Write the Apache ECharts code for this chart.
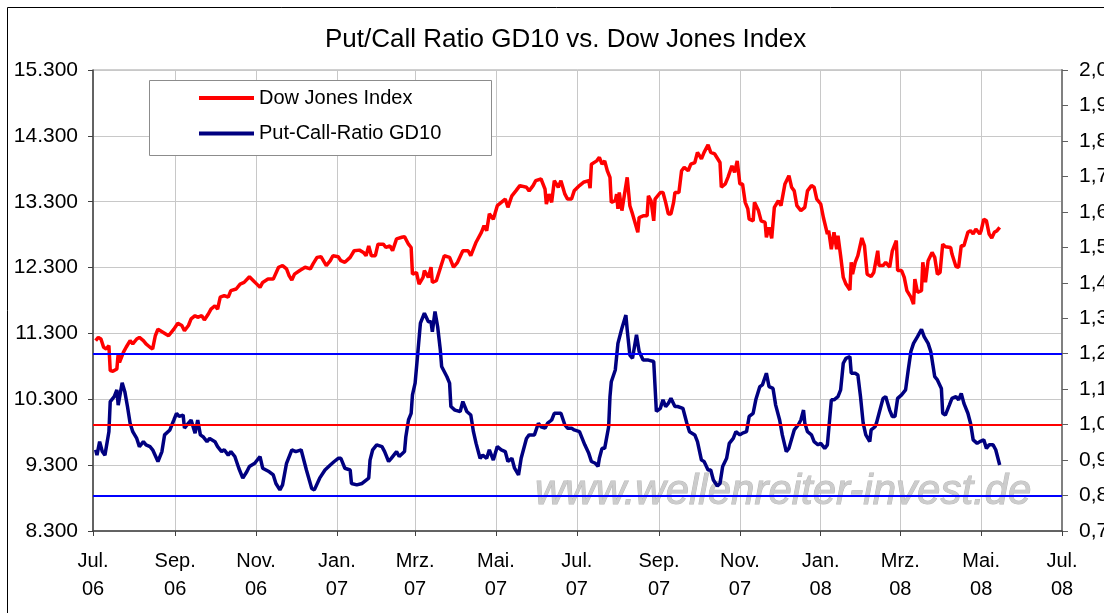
<!DOCTYPE html>
<html>
<head>
<meta charset="utf-8">
<title>Put/Call Ratio GD10 vs. Dow Jones Index</title>
<script src="https://cdn.jsdelivr.net/npm/echarts@6/dist/echarts.min.js"></script>
<style>
  html, body { margin: 0; padding: 0; background: #fff; }
  #chart { width: 1104px; height: 613px; }
</style>
</head>
<body>
<div id="chart"></div>
<script>
// tick labels: every second month, first of the month
const tickMonths = ['07', '09', '11', '01', '03', '05'];
const monthNames = { '01': 'Jan.', '03': 'Mrz.', '05': 'Mai.', '07': 'Jul.', '09': 'Sep.', '11': 'Nov.' };

// reference levels of the put/call ratio
const pcrUpper = [1.2, 0.8];
const pcrMiddle = [1.0];

const dowDates = [
  '2006-07-03','2006-07-05','2006-07-07','2006-07-09','2006-07-11','2006-07-13','2006-07-14','2006-07-16',
  '2006-07-19','2006-07-20','2006-07-21','2006-07-24','2006-07-26','2006-07-29','2006-07-31','2006-08-03',
  '2006-08-05','2006-08-08','2006-08-10','2006-08-13','2006-08-15','2006-08-17','2006-08-19','2006-08-23',
  '2006-08-27','2006-08-31','2006-09-03','2006-09-06','2006-09-08','2006-09-11','2006-09-13','2006-09-16',
  '2006-09-18','2006-09-21','2006-09-23','2006-09-26','2006-09-28','2006-10-01','2006-10-03','2006-10-05',
  '2006-10-08','2006-10-11','2006-10-13','2006-10-17','2006-10-20','2006-10-23','2006-10-27','2006-10-30',
  '2006-11-01','2006-11-04','2006-11-06','2006-11-10','2006-11-14','2006-11-18','2006-11-21','2006-11-24',
  '2006-11-26','2006-11-28','2006-11-30','2006-12-04','2006-12-08','2006-12-12','2006-12-14','2006-12-17',
  '2006-12-20','2006-12-24','2006-12-27','2006-12-29','2007-01-02','2007-01-04','2007-01-07','2007-01-11',
  '2007-01-14','2007-01-18','2007-01-21','2007-01-23','2007-01-25','2007-01-27','2007-01-30','2007-02-01',
  '2007-02-05','2007-02-07','2007-02-10','2007-02-12','2007-02-15','2007-02-19','2007-02-21','2007-02-24',
  '2007-02-26','2007-02-27','2007-03-02','2007-03-04','2007-03-07','2007-03-08','2007-03-11','2007-03-13',
  '2007-03-14','2007-03-17','2007-03-21','2007-03-23','2007-03-27','2007-03-30','2007-04-02','2007-04-06',
  '2007-04-10','2007-04-12','2007-04-16','2007-04-20','2007-04-22','2007-04-24','2007-04-26','2007-04-29',
  '2007-05-02','2007-05-05','2007-05-08','2007-05-10','2007-05-13','2007-05-16','2007-05-19','2007-05-24',
  '2007-05-26','2007-05-29','2007-05-31','2007-06-04','2007-06-07','2007-06-08','2007-06-10','2007-06-12',
  '2007-06-14','2007-06-17','2007-06-19','2007-06-22','2007-06-24','2007-06-27','2007-06-29','2007-07-03',
  '2007-07-06','2007-07-10','2007-07-11','2007-07-12','2007-07-16','2007-07-18','2007-07-20','2007-07-22',
  '2007-07-24','2007-07-26','2007-07-27','2007-07-30','2007-07-31','2007-08-01','2007-08-02','2007-08-04',
  '2007-08-08','2007-08-10','2007-08-12','2007-08-16','2007-08-17','2007-08-20','2007-08-23','2007-08-24',
  '2007-08-26','2007-08-28','2007-08-29','2007-09-02','2007-09-04','2007-09-06','2007-09-08','2007-09-10',
  '2007-09-12','2007-09-13','2007-09-16','2007-09-18','2007-09-20','2007-09-23','2007-09-25','2007-09-28',
  '2007-09-30','2007-10-03','2007-10-05','2007-10-08','2007-10-10','2007-10-13','2007-10-17','2007-10-18',
  '2007-10-21','2007-10-23','2007-10-26','2007-10-28','2007-10-30','2007-11-01','2007-11-03','2007-11-05',
  '2007-11-07','2007-11-08','2007-11-11','2007-11-12','2007-11-15','2007-11-17','2007-11-20','2007-11-21',
  '2007-11-23','2007-11-25','2007-11-27','2007-11-30','2007-12-02','2007-12-05','2007-12-08','2007-12-10',
  '2007-12-12','2007-12-14','2007-12-17','2007-12-20','2007-12-22','2007-12-25','2007-12-27','2007-12-29',
  '2008-01-01','2008-01-03','2008-01-06','2008-01-07','2008-01-09','2008-01-11','2008-01-13','2008-01-14',
  '2008-01-16','2008-01-18','2008-01-20','2008-01-23','2008-01-24','2008-01-25','2008-01-27','2008-01-29',
  '2008-01-30','2008-02-01','2008-02-03','2008-02-05','2008-02-08','2008-02-10','2008-02-13','2008-02-14',
  '2008-02-17','2008-02-19','2008-02-22','2008-02-24','2008-02-27','2008-02-28','2008-03-02','2008-03-04',
  '2008-03-06','2008-03-09','2008-03-11','2008-03-12','2008-03-14','2008-03-17','2008-03-18','2008-03-20',
  '2008-03-22','2008-03-25','2008-03-27','2008-03-29','2008-03-31','2008-04-02','2008-04-04','2008-04-08',
  '2008-04-09','2008-04-12','2008-04-14','2008-04-16','2008-04-18','2008-04-21','2008-04-23','2008-04-25',
  '2008-04-27','2008-04-30','2008-05-01','2008-05-03','2008-05-05','2008-05-07','2008-05-09','2008-05-11',
  '2008-05-13','2008-05-15'
];
const dowValues = [
  11190, 11240, 11215, 11090, 11065, 11115, 10735, 10725,
  10760, 10990, 10860, 11015, 11090, 11190, 11140, 11215,
  11240, 11190, 11140, 11090, 11065, 11265, 11365, 11315,
  11265, 11365, 11455, 11420, 11340, 11420, 11520, 11570,
  11545, 11570, 11505, 11595, 11670, 11720, 11670, 11850,
  11875, 11850, 11950, 11975, 12050, 12075, 12160, 12100,
  12060, 12000, 12075, 12125, 12125, 12305, 12330, 12280,
  12175, 12110, 12200, 12255, 12305, 12280, 12355, 12455,
  12465, 12330, 12405, 12480, 12465, 12405, 12380, 12455,
  12555, 12565, 12530, 12480, 12630, 12480, 12480, 12655,
  12655, 12605, 12630, 12555, 12735, 12760, 12770, 12655,
  12605, 12200, 12225, 12050, 12150, 12255, 12150, 12305,
  12075, 12100, 12355, 12480, 12455, 12305, 12380, 12555,
  12555, 12480, 12685, 12835, 12935, 12860, 13115, 13035,
  13240, 13290, 13340, 13215, 13390, 13465, 13545, 13520,
  13465, 13545, 13620, 13645, 13490, 13265, 13415, 13290,
  13620, 13520, 13620, 13415, 13340, 13340, 13465, 13545,
  13595, 13620, 13505, 13870, 13920, 13975, 13870, 13920,
  13770, 13670, 13290, 13315, 13415, 13190, 13440, 13165,
  13670, 13240, 13115, 12835, 13060, 13085, 13085, 13390,
  13315, 13010, 13340, 13440, 13440, 13290, 13115, 13115,
  13290, 13440, 13440, 13770, 13820, 13770, 13870, 13895,
  14050, 13950, 14050, 14165, 14050, 14025, 13895, 13520,
  13570, 13670, 13845, 13745, 13920, 13570, 13570, 13290,
  13190, 13035, 13010, 13290, 13165, 13010, 12985, 12760,
  12910, 12745, 13215, 13315, 13240, 13570, 13695, 13520,
  13465, 13240, 13165, 13215, 13465, 13545, 13520, 13340,
  13265, 13060, 12810, 12860, 12580, 12835, 12580, 12785,
  12480, 12150, 12050, 11960, 12380, 12200, 12380, 12480,
  12505, 12750, 12630, 12200, 12165, 12225, 12555, 12330,
  12330, 12380, 12305, 12555, 12710, 12255, 12255, 12150,
  11950, 11850, 11745, 12125, 11925, 11950, 12380, 12075,
  12405, 12530, 12455, 12200, 12225, 12655, 12615, 12605,
  12505, 12315, 12305, 12630, 12630, 12835, 12860, 12810,
  12885, 12810, 12860, 13035, 13010, 12810, 12750, 12835,
  12860, 12910
];

const pcrDates = [
  '2006-07-03','2006-07-04','2006-07-06','2006-07-08','2006-07-10','2006-07-13','2006-07-14','2006-07-17',
  '2006-07-19','2006-07-20','2006-07-23','2006-07-25','2006-07-27','2006-07-29','2006-07-31','2006-08-03',
  '2006-08-05','2006-08-08','2006-08-10','2006-08-13','2006-08-15','2006-08-19','2006-08-22','2006-08-24',
  '2006-08-28','2006-08-31','2006-09-02','2006-09-04','2006-09-07','2006-09-08','2006-09-11','2006-09-13',
  '2006-09-16','2006-09-18','2006-09-20','2006-09-22','2006-09-25','2006-09-27','2006-10-01','2006-10-03',
  '2006-10-06','2006-10-08','2006-10-11','2006-10-13','2006-10-16','2006-10-19','2006-10-22','2006-10-25',
  '2006-10-27','2006-10-31','2006-11-04','2006-11-06','2006-11-11','2006-11-14','2006-11-16','2006-11-19',
  '2006-11-21','2006-11-24','2006-11-28','2006-12-01','2006-12-05','2006-12-09','2006-12-13','2006-12-15',
  '2006-12-19','2006-12-23','2006-12-27','2006-12-30','2007-01-02','2007-01-04','2007-01-07','2007-01-11',
  '2007-01-12','2007-01-16','2007-01-20','2007-01-25','2007-01-26','2007-01-28','2007-01-31','2007-02-04',
  '2007-02-06','2007-02-09','2007-02-11','2007-02-15','2007-02-17','2007-02-21','2007-02-22','2007-02-24',
  '2007-02-26','2007-02-27','2007-03-01','2007-03-03','2007-03-05','2007-03-08','2007-03-11','2007-03-13',
  '2007-03-14','2007-03-16','2007-03-18','2007-03-20','2007-03-21','2007-03-25','2007-03-27','2007-03-28',
  '2007-03-31','2007-04-04','2007-04-06','2007-04-09','2007-04-12','2007-04-14','2007-04-16','2007-04-19',
  '2007-04-21','2007-04-24','2007-04-26','2007-04-29','2007-05-02','2007-05-05','2007-05-08','2007-05-10',
  '2007-05-13','2007-05-15','2007-05-18','2007-05-20','2007-05-24','2007-05-26','2007-05-30','2007-06-02',
  '2007-06-04','2007-06-07','2007-06-09','2007-06-12','2007-06-14','2007-06-19','2007-06-22','2007-06-24',
  '2007-06-27','2007-06-29','2007-07-03','2007-07-07','2007-07-10','2007-07-12','2007-07-15','2007-07-17',
  '2007-07-18','2007-07-20','2007-07-22','2007-07-25','2007-07-26','2007-07-27','2007-07-30','2007-08-01',
  '2007-08-04','2007-08-07','2007-08-08','2007-08-10','2007-08-12','2007-08-15','2007-08-17','2007-08-20',
  '2007-08-24','2007-08-28','2007-08-30','2007-09-02','2007-09-04','2007-09-06','2007-09-08','2007-09-10',
  '2007-09-13','2007-09-15','2007-09-19','2007-09-22','2007-09-24','2007-09-28','2007-09-30','2007-10-03',
  '2007-10-05','2007-10-08','2007-10-10','2007-10-12','2007-10-15','2007-10-17','2007-10-19','2007-10-22',
  '2007-10-24','2007-10-27','2007-10-29','2007-11-01','2007-11-03','2007-11-06','2007-11-08','2007-11-11',
  '2007-11-13','2007-11-16','2007-11-18','2007-11-21','2007-11-23','2007-11-26','2007-11-28','2007-12-01',
  '2007-12-03','2007-12-06','2007-12-08','2007-12-12','2007-12-15','2007-12-17','2007-12-19','2007-12-20',
  '2007-12-22','2007-12-25','2007-12-27','2007-12-30','2008-01-01','2008-01-04','2008-01-06','2008-01-07',
  '2008-01-09','2008-01-11','2008-01-14','2008-01-16','2008-01-18','2008-01-20','2008-01-23','2008-01-24',
  '2008-01-27','2008-01-29','2008-01-31','2008-02-02','2008-02-04','2008-02-07','2008-02-08','2008-02-11',
  '2008-02-12','2008-02-14','2008-02-17','2008-02-19','2008-02-22','2008-02-24','2008-02-26','2008-02-28',
  '2008-03-02','2008-03-05','2008-03-07','2008-03-09','2008-03-11','2008-03-14','2008-03-17','2008-03-19',
  '2008-03-22','2008-03-24','2008-03-27','2008-03-29','2008-04-01','2008-04-02','2008-04-04','2008-04-07',
  '2008-04-09','2008-04-12','2008-04-14','2008-04-16','2008-04-18','2008-04-21','2008-04-23','2008-04-25',
  '2008-04-28','2008-04-30','2008-05-03','2008-05-05','2008-05-07','2008-05-10','2008-05-12','2008-05-15'
];
const pcrValues = [
  0.929, 0.914, 0.952, 0.924, 0.914, 0.980, 1.065, 1.079,
  1.098, 1.055, 1.118, 1.093, 1.051, 1.004, 0.980, 0.961,
  0.938, 0.952, 0.943, 0.938, 0.929, 0.896, 0.924, 0.971,
  0.985, 1.013, 1.032, 1.023, 1.027, 0.990, 1.004, 1.013,
  0.976, 1.013, 0.971, 0.966, 0.952, 0.961, 0.952, 0.938,
  0.924, 0.929, 0.914, 0.924, 0.910, 0.877, 0.849, 0.867,
  0.882, 0.891, 0.910, 0.877, 0.867, 0.858, 0.834, 0.816,
  0.830, 0.891, 0.929, 0.924, 0.929, 0.872, 0.820, 0.816,
  0.849, 0.872, 0.886, 0.896, 0.905, 0.905, 0.877, 0.872,
  0.834, 0.830, 0.834, 0.849, 0.900, 0.929, 0.943, 0.938,
  0.924, 0.896, 0.905, 0.924, 0.910, 0.924, 0.966, 1.013,
  1.032, 1.084, 1.117, 1.201, 1.286, 1.314, 1.290, 1.290,
  1.262, 1.319, 1.276, 1.211, 1.164, 1.135, 1.117, 1.051,
  1.041, 1.037, 1.065, 1.037, 1.027, 0.980, 0.947, 0.905,
  0.914, 0.905, 0.929, 0.900, 0.938, 0.929, 0.924, 0.896,
  0.905, 0.877, 0.858, 0.905, 0.961, 0.971, 0.971, 1.004,
  0.994, 0.990, 1.004, 1.013, 1.032, 1.032, 0.999, 0.990,
  0.990, 0.985, 0.980, 0.943, 0.919, 0.896, 0.891, 0.882,
  0.905, 0.933, 0.933, 0.994, 1.079, 1.121, 1.154, 1.229,
  1.272, 1.309, 1.267, 1.196, 1.187, 1.253, 1.206, 1.182,
  1.182, 1.178, 1.037, 1.046, 1.070, 1.051, 1.060, 1.074,
  1.051, 1.051, 1.046, 1.004, 0.980, 0.971, 0.952, 0.900,
  0.896, 0.872, 0.872, 0.844, 0.827, 0.834, 0.882, 0.905,
  0.947, 0.961, 0.980, 0.971, 0.976, 0.980, 1.023, 1.032,
  1.070, 1.107, 1.112, 1.145, 1.107, 1.102, 1.055, 1.013,
  0.971, 0.924, 0.933, 0.985, 0.999, 1.013, 1.041, 1.004,
  0.980, 0.971, 0.952, 0.943, 0.947, 0.933, 0.943, 0.985,
  1.070, 1.070, 1.079, 1.098, 1.173, 1.187, 1.192, 1.145,
  1.145, 1.140, 1.079, 1.004, 0.971, 0.952, 0.985, 0.994,
  1.004, 1.032, 1.074, 1.079, 1.041, 1.023, 1.023, 1.074,
  1.084, 1.098, 1.154, 1.206, 1.229, 1.248, 1.269, 1.248,
  1.229, 1.206, 1.135, 1.126, 1.102, 1.032, 1.027, 1.055,
  1.074, 1.079, 1.070, 1.088, 1.060, 1.032, 1.004, 0.957,
  0.947, 0.952, 0.957, 0.933, 0.943, 0.943, 0.929, 0.886
];

// one category per calendar day, Jul 1 2006 .. Jul 1 2008
const days = [];
for (let t = Date.UTC(2006, 6, 1); t <= Date.UTC(2008, 6, 1); t += 86400000) {
  days.push(new Date(t).toISOString().slice(0, 10));
}
const isTick = d => d.slice(8) === '01' && tickMonths.indexOf(d.slice(5, 7)) >= 0;

const font = 'Liberation Sans, Arial, sans-serif';

const chart = echarts.init(document.getElementById('chart'));
chart.setOption({
  animation: false,
  backgroundColor: '#fff',
  title: {
    text: 'Put/Call Ratio GD10 vs. Dow Jones Index',
    left: 325,
    top: 27,
    padding: 0,
    textStyle: { fontFamily: font, fontSize: 26, fontWeight: 'normal', color: '#000' }
  },
  legend: {
    orient: 'vertical',
    left: 199,
    top: 87,
    padding: 0,
    itemWidth: 55,
    itemHeight: 4,
    itemGap: 13.6,
    icon: 'rect',
    textStyle: { fontFamily: font, fontSize: 20, lineHeight: 22, color: '#000' },
    data: ['Dow Jones Index', 'Put-Call-Ratio GD10']
  },
  grid: {
    left: 93,
    right: 42,
    top: 70,
    bottom: 82,
    outerBoundsMode: 'none',
    show: true,
    borderColor: '#a0a0a0',
    borderWidth: 1
  },
  xAxis: {
    type: 'category',
    data: days,
    boundaryGap: false,
    axisLine: { lineStyle: { color: '#404040', width: 1.5 } },
    axisTick: {
      interval: (i, v) => isTick(v),
      length: 5,
      lineStyle: { color: '#404040' }
    },
    axisLabel: {
      interval: (i, v) => isTick(v),
      formatter: v => monthNames[v.slice(5, 7)] + '\n' + v.slice(2, 4),
      fontFamily: font,
      fontSize: 20,
      lineHeight: 28,
      margin: 16,
      color: '#000'
    },
    splitLine: {
      show: true,
      interval: (i, v) => isTick(v),
      lineStyle: { color: '#c8c8c8', width: 1 }
    }
  },
  yAxis: [
    {
      type: 'value',
      position: 'left',
      min: 8300,
      max: 15300,
      interval: 1000,
      axisLine: { show: true, lineStyle: { color: '#404040', width: 1.5 } },
      axisTick: { show: true, length: 5, lineStyle: { color: '#404040' } },
      axisLabel: {
        formatter: v => Math.floor(v / 1000) + '.' + String(v % 1000).padStart(3, '0'),
        fontFamily: font,
        fontSize: 21,
        margin: 15,
        color: '#000'
      },
      splitLine: { show: true, lineStyle: { color: '#c8c8c8', width: 1 } }
    },
    {
      type: 'value',
      position: 'right',
      min: 0.7,
      max: 2.0,
      interval: 0.1,
      axisLine: { show: true, lineStyle: { color: '#808080', width: 2 } },
      axisTick: { show: true, length: 6, lineStyle: { color: '#606060' } },
      axisLabel: {
        formatter: v => v.toFixed(1).replace('.', ','),
        fontFamily: font,
        fontSize: 21,
        margin: 17,
        color: '#000'
      },
      splitLine: { show: false }
    }
  ],
  graphic: [
    {
      type: 'rect',
      z: 100,
      silent: true,
      shape: { x: 7.5, y: 7.5, width: 1200, height: 700 },
      style: { fill: 'none', stroke: '#000', lineWidth: 1 }
    },
    {
      type: 'rect',
      z: 3,
      silent: true,
      shape: { x: 149.5, y: 80.5, width: 342, height: 75 },
      style: { fill: '#fff', stroke: '#8c8c8c', lineWidth: 1 }
    },
    {
      type: 'text',
      z: 1,
      silent: true,
      x: 535,
      y: 492,
      style: {
        text: 'www.wellenreiter-invest.de',
        fontFamily: font,
        fontSize: 42,
        fontStyle: 'italic',
        fill: '#cccccc',
        stroke: '#b8b8b8',
        lineWidth: 1,
        verticalAlign: 'middle'
      }
    }
  ],
  series: [
    {
      name: 'Dow Jones Index',
      type: 'line',
      yAxisIndex: 0,
      data: dowDates.map((d, i) => [d, dowValues[i]]),
      showSymbol: false,
      lineStyle: { color: '#ff0000', width: 3.5 },
      itemStyle: { color: '#ff0000' },
      z: 4
    },
    {
      name: 'Put-Call-Ratio GD10',
      type: 'line',
      yAxisIndex: 1,
      data: pcrDates.map((d, i) => [d, pcrValues[i]]),
      showSymbol: false,
      lineStyle: { color: '#000080', width: 3.5 },
      itemStyle: { color: '#000080' },
      z: 4,
      markLine: {
        silent: true,
        symbol: ['none', 'none'],
        label: { show: false },
        data: pcrUpper.map(v => ({ yAxis: v, lineStyle: { color: '#0000ff', width: 2, type: 'solid' } }))
          .concat(pcrMiddle.map(v => ({ yAxis: v, lineStyle: { color: '#ff0000', width: 2, type: 'solid' } })))
      }
    }
  ]
});
</script>
</body>
</html>
